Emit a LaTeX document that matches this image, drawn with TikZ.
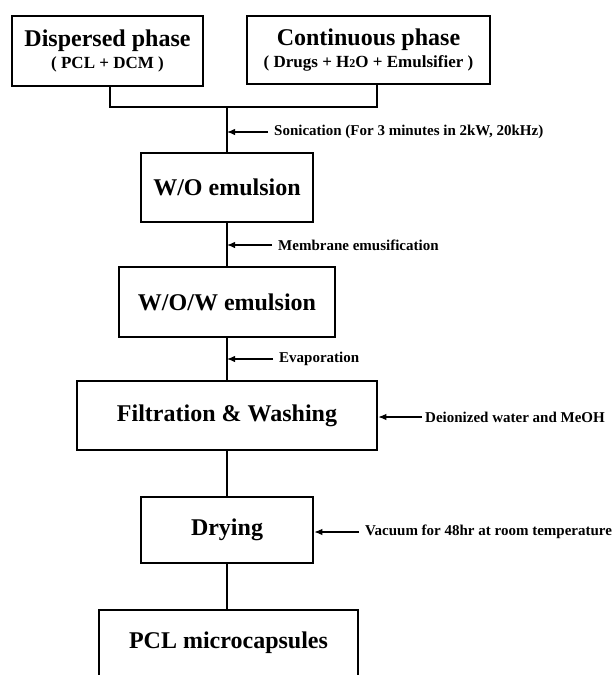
\documentclass[tikz,border=0pt]{standalone}
\usepackage{fontspec}
\setmainfont{Liberation Serif}
\usetikzlibrary{arrows.meta,calc}
\begin{document}
\begin{tikzpicture}[x=1pt,y=-1pt,
  box/.style={draw, line width=2.6pt, inner sep=0pt, align=center},
  title/.style={font=\fontsize{24}{26}\selectfont\bfseries},
  lbl/.style={font=\fontsize{15}{17}\selectfont\bfseries, anchor=west, inner sep=0pt},
  conn/.style={line width=2.8pt},
  arr/.style={-{Latex[length=8pt,width=6.5pt]}, line width=1.2pt}]
\useasboundingbox (0,0) rectangle (616,675);

\node[box, font=\bfseries, minimum width=191pt, minimum height=70pt] (disp) at (107.5,51)
  {\begin{tabular}{@{}c@{}}{\fontsize{24}{24}\selectfont Dispersed phase}\\[7pt]{\fontsize{17}{17}\selectfont ( PCL + DCM )}\end{tabular}};
\node[box, font=\bfseries, minimum width=243pt, minimum height=68pt] (cont) at (368.5,50)
  {\begin{tabular}{@{}c@{}}{\fontsize{24}{24}\selectfont Continuous phase}\\[7pt]{\fontsize{17}{17}\selectfont ( Drugs + H{\fontsize{12}{12}\selectfont 2}O + Emulsifier )}\end{tabular}};

\node[box, title, minimum width=172pt, minimum height=69pt] (wo) at (227,187.5) {W/O emulsion};
\node[box, title, minimum width=216pt, minimum height=70pt] (wow) at (227,302) {W/O/W emulsion};
\node[box, title, minimum width=300pt, minimum height=69pt] (filt) at (227,415.5) {Filtration \& Washing};
\node[box, title, minimum width=172pt, minimum height=66pt] (dry) at (227,530) {Drying};
\node[title, inner sep=0pt] (pcl) at (228.5,643) {PCL microcapsules};
\coordinate (pcltop) at (227,610);
\draw[line width=2.6pt] (99,680) -- (99,610) -- (358,610) -- (358,680);

\coordinate (j) at (227,107);
\coordinate (cd) at ([xshift=8.5pt]cont.south);
\draw[conn] ([xshift=2.5pt]disp.south) |- (j) -| (cd);
\draw[conn] (j) -- (wo.north);
\draw[conn] (wo.south) -- (wow.north);
\draw[conn] (wow.south) -- (filt.north);
\draw[conn] (filt.south) -- (dry.north);
\draw[conn] (dry.south) -- (pcltop);

\node[lbl] (l1) at (274,132) {Sonication (For 3 minutes in 2kW, 20kHz)};
\node[lbl] (l2) at (278,245) {Membrane emusification};
\node[lbl] (l3) at (279,359) {Evaporation};
\node[lbl] (l4) at (425,417) {Deionized water and MeOH};
\node[lbl] (l5) at (365,532) {Vacuum for 48hr at room temperature};

\draw[arr] ([xshift=-6pt]l1.west) -- (l1.west -| j);
\draw[arr] ([xshift=-6pt]l2.west) -- (l2.west -| j);
\draw[arr] ([xshift=-6pt]l3.west) -- (l3.west -| j);
\draw[arr] ([xshift=-3pt]l4.west) -- (l4.west -| filt.east);
\draw[arr] ([xshift=-6pt]l5.west) -- (l5.west -| dry.east);
\end{tikzpicture}
\end{document}
